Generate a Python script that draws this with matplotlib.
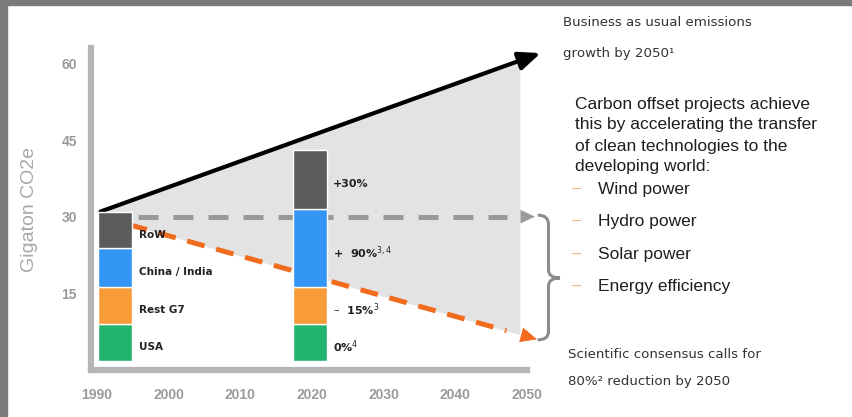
import numpy as np
import matplotlib
matplotlib.use("Agg")
import matplotlib.pyplot as plt
from matplotlib.patches import Rectangle, PathPatch
from matplotlib.path import Path

# emissions by region (Gt CO2e), stacked bottom-up
bar_years = ["1990", "2020"]
regions = ["USA", "Rest G7", "China / India", "RoW"]
usa = [7.2, 7.2]
rest_g7 = [7.2, 7.2]
china_india = [7.7, 15.3]
row = [7.0, 11.5]
change_2020 = ["0%$^{4}$", "\u2013  15%$^{3}$", "+  90%$^{3,4}$", "+30%"]

# trajectories to 2050
bau_start, bau_end = 31.0, 62.0
baseline = 30.0
target_2050 = 6.0

year_ticks = [1990, 2000, 2010, 2020, 2030, 2040, 2050]
value_ticks = [15, 30, 45, 60]

colors = {"USA": "#22b46e", "Rest G7": "#f89c3a",
          "China / India": "#3396f5", "RoW": "#5c5c5c"}

W, H = 853, 417
fig = plt.figure(figsize=(W / 100, H / 100), dpi=100)
fig.patch.set_facecolor("white")

# dark frame on the left and top edges
fig.patches.append(Rectangle((0, 0), 7 / W, 1, transform=fig.transFigure,
                             color="#7b7b7b", zorder=-1))
fig.patches.append(Rectangle((0, 1 - 5 / H), 1, 5 / H, transform=fig.transFigure,
                             color="#7b7b7b", zorder=-1))

ax = fig.add_axes([91 / W, (H - 370) / H, 436 / W, 322 / H])
ax.set_xlim(1989.16, 2050.0)
ax.set_ylim(0, 63.0)

for side in ["top", "right"]:
    ax.spines[side].set_visible(False)
for side in ["left", "bottom"]:
    ax.spines[side].set_color("#b5b5b5")
    ax.spines[side].set_linewidth(4.5)

tick_font = dict(family="Liberation Sans", weight="bold", size=10)
ax.set_xticks(year_ticks)
ax.set_xticklabels([str(y) for y in year_ticks], fontdict=tick_font, color="#9a9a9a")
ax.set_yticks(value_ticks)
ax.set_yticklabels([str(v) for v in value_ticks], fontdict=tick_font, color="#9a9a9a")
ax.tick_params(axis="x", length=0, pad=13)
ax.tick_params(axis="y", length=0, pad=10)
ax.set_ylabel("Gigaton CO2e", fontsize=14, color="#a8a8a8",
              family="Liberation Sans", labelpad=17)

# shaded gap between business-as-usual and the reduction path
x0, x_tip, x_fill = 1990.5, 2051.3, 2049.0
bau_tip = bau_end
fill_x = np.array([x0, x_fill])
top = np.interp(fill_x, [x0, x_tip], [bau_start, bau_tip])
bottom = np.interp(fill_x, [x0, x_tip], [baseline, target_2050])
ax.fill_between(fill_x, bottom, top, color="#e3e3e3", lw=0, zorder=1)

# business-as-usual growth arrow
ax.annotate("", xy=(x_tip + 0.6, bau_tip), xytext=(x0, bau_start),
            arrowprops=dict(arrowstyle="-|>,head_length=1.3,head_width=0.55",
                            color="black", lw=3, shrinkA=0, shrinkB=0),
            annotation_clip=False, zorder=3)


def dashed_arrow(xa, ya, xb, yb, color, lw, dashes, head):
    t = 0.93
    xm, ym = xa + (xb - xa) * t, ya + (yb - ya) * t
    ax.plot([xa, xm], [ya, ym], color=color, lw=lw, dashes=dashes,
            solid_capstyle="butt", dash_capstyle="butt", clip_on=False, zorder=3)
    ax.annotate("", xy=(xb, yb), xytext=(xb - (xb - xa) * 0.03, yb - (yb - ya) * 0.03),
                arrowprops=dict(arrowstyle=head, color=color, lw=0.5,
                                shrinkA=0, shrinkB=0),
                annotation_clip=False, zorder=3)


# flat 1990 level and 80% reduction path
dashed_arrow(1995.7, baseline, 2051.1, baseline, "#9a9a9a", 3.6, (4, 3),
             "-|>,head_length=0.95,head_width=0.45")
dashed_arrow(x0, baseline, 2051.4, target_2050, "#f26b1d", 3.6, (3.6, 2.4),
             "-|>,head_length=1.1,head_width=0.5")

# stacked bars
bar_x = [1992.5, 2019.7]
bar_w = 4.74
base = np.full(2, 1.8)
stack = [usa, rest_g7, china_india, row]
for name, vals in zip(regions, stack):
    ax.bar(bar_x, vals, bar_w, bottom=base, color=colors[name],
           edgecolor="white", linewidth=1, zorder=4)
    mid = base + np.array(vals) / 2 - 0.9
    ax.text(bar_x[0] + bar_w / 2 + 1.0, mid[0], name, fontsize=7.5,
            weight="bold", color="#222222", va="center", zorder=5)
    base = base + np.array(vals)

# change labels beside the 2020 bar
base = np.full(2, 1.8)
for label, vals in zip(change_2020, stack):
    mid = base[1] + vals[1] / 2 - 0.9
    ax.text(bar_x[1] + bar_w / 2 + 0.85, mid, label, fontsize=8,
            weight="bold", color="#222222", va="center", zorder=5)
    base = base + np.array(vals)

# brace spanning the reduction gap at 2050
bx0, bx1, bx2 = 2051.5, 2053.0, 2054.6
ymid = (baseline + target_2050) / 2
verts = [(bx0, baseline + 0.3), (bx1, baseline + 0.3), (bx1, baseline - 1.5),
         (bx1, ymid + 1.6), (bx1, ymid), (bx2, ymid),
         (bx1, ymid), (bx1, ymid - 1.6),
         (bx1, target_2050 + 1.5), (bx1, target_2050 - 0.1), (bx0, target_2050 - 0.1)]
codes = [Path.MOVETO, Path.CURVE3, Path.CURVE3,
         Path.LINETO, Path.CURVE3, Path.CURVE3,
         Path.CURVE3, Path.CURVE3,
         Path.LINETO, Path.CURVE3, Path.CURVE3]
ax.add_patch(PathPatch(Path(verts, codes), fill=False, edgecolor="#8c8c8c",
                       lw=2.2, clip_on=False, zorder=3))


def ftext(px, py, s, **kw):
    fig.text(px / W, 1 - py / H, s, va="center", ha="left", **kw)


note = dict(family="DejaVu Sans", size=9.6, color="#333333")
ftext(563, 22, "Business as usual emissions", **note)
ftext(563, 53, "growth by 2050\u00b9", **note)
ftext(568, 355, "Scientific consensus calls for", **note)
ftext(568, 381, "80%\u00b2 reduction by 2050", **note)

body = dict(family="Liberation Sans", size=12.5, color="#1e1e1e")
para = ["Carbon offset projects achieve",
        "this by accelerating the transfer",
        "of clean technologies to the",
        "developing world:"]
for i, line in enumerate(para):
    ftext(575, 104 + i * 21, line, **body)

bullets = ["Wind power", "Hydro power", "Solar power", "Energy efficiency"]
for i, item in enumerate(bullets):
    y = 189 + i * 32.5
    ftext(572, y, "\u2013", family="Liberation Sans", size=12, color="#e8b88a")
    ftext(598, y, item, **body)

fig.savefig("out.png", dpi=100, facecolor="white")
